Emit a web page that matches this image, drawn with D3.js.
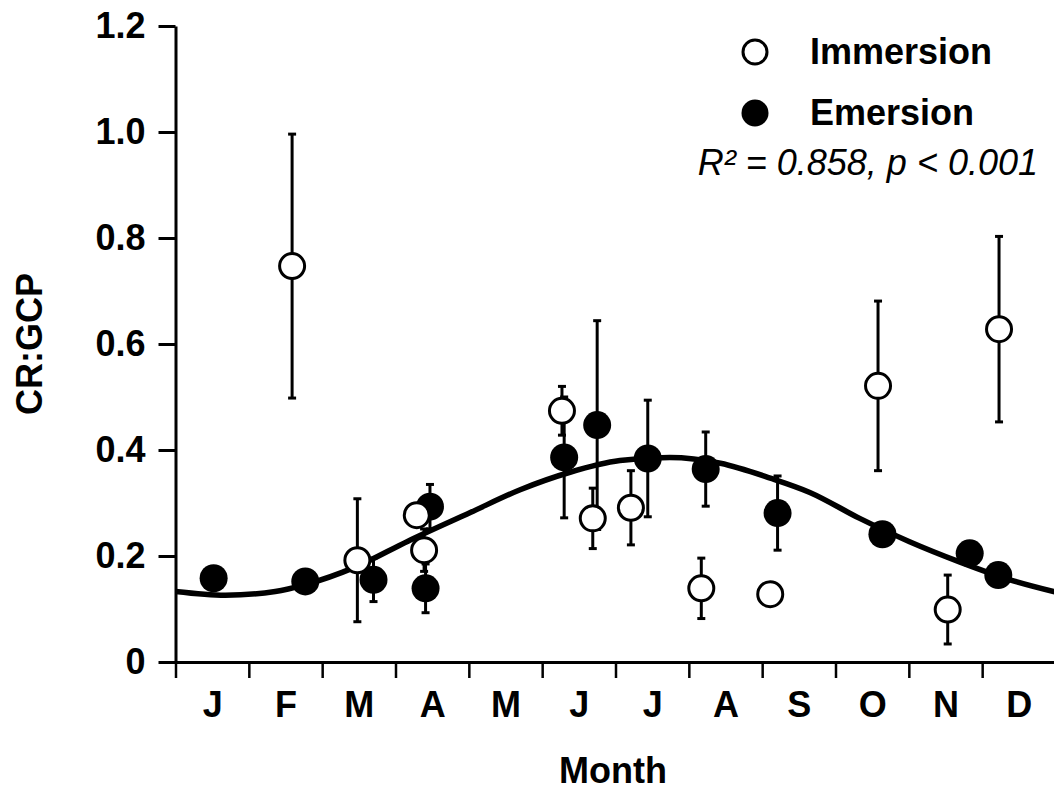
<!DOCTYPE html>
<html>
<head>
<meta charset="utf-8">
<script src="https://cdn.jsdelivr.net/npm/d3@7"></script>
<style>
  body { margin: 0; background: #fff; }
  svg { display: block; font-family: "Liberation Sans", Arial, sans-serif; }
</style>
</head>
<body>
<svg></svg>
<script>
// размеры
const width = 1054;
const height = 790;

// данные (позиция по оси X в месяцах от начала года)
const monthLabels = ["J", "F", "M", "A", "M", "J", "J", "A", "S", "O", "N", "D"];
const yTicks = [0, 0.2, 0.4, 0.6, 0.8, 1.0, 1.2];

// Immersion - пустые кружки
const immersionMonth = [1.59, 2.48, 3.29, 3.39, 5.27, 5.69, 6.21, 7.17, 8.11, 9.58, 10.53, 11.23];
const immersionValue = [0.747, 0.192, 0.277, 0.211, 0.474, 0.271, 0.291, 0.139, 0.128, 0.521, 0.099, 0.628];
const immersionErr = [0.249, 0.116, 0, 0.040, 0.046, 0.057, 0.070, 0.057, 0, 0.160, 0.065, 0.175];

// Emersion - закрашенные кружки
const emersionMonth = [0.52, 1.77, 2.70, 3.47, 3.41, 5.30, 5.75, 6.44, 7.23, 8.21, 9.64, 10.83, 11.22];
const emersionValue = [0.158, 0.152, 0.155, 0.293, 0.139, 0.386, 0.447, 0.384, 0.364, 0.281, 0.241, 0.205, 0.164];
const emersionErr = [0, 0, 0.041, 0.042, 0.046, 0.114, 0.197, 0.110, 0.070, 0.070, 0, 0, 0];

// линия аппроксимации
const fitMonth = [0, 0.68, 1.36, 1.77, 2.45, 3.17, 4.02, 4.70, 5.38, 6.06, 6.74, 7.43, 8.11, 8.65, 9.33, 10.01, 10.69, 11.38, 12];
const fitValue = [0.133, 0.126, 0.133, 0.146, 0.179, 0.228, 0.282, 0.325, 0.358, 0.380, 0.386, 0.375, 0.347, 0.320, 0.271, 0.227, 0.189, 0.155, 0.132];

let svg = d3.select("svg")
    .attr("width", width)
    .attr("height", height);

const x = d3.scaleLinear().domain([0, 12]).range([175.5, 1055.5]);
const y = d3.scaleLinear().domain([0, 1.2]).range([662, 26]);

// ось Y
let yAxis = svg.append("g")
    .attr("transform", `translate(${x(0)},0)`)
    .call(d3.axisLeft(y).tickValues(yTicks).tickSize(17).tickSizeOuter(0).tickPadding(13)
        .tickFormat(d => d === 0 ? "0" : d.toFixed(1)));
yAxis.select(".domain").attr("stroke-width", 3);
yAxis.selectAll(".tick line").attr("stroke-width", 3);
yAxis.selectAll(".tick text")
    .style("font-size", "36px").style("font-weight", "bold").attr("fill", "#000");

// ось X - деления между месяцами
let xAxis = svg.append("g")
    .attr("transform", `translate(0,${y(0)})`)
    .call(d3.axisBottom(x).tickValues(d3.range(0, 13)).tickSize(16).tickSizeOuter(0).tickFormat(""));
xAxis.select(".domain").attr("stroke-width", 3);
xAxis.selectAll(".tick line").attr("stroke-width", 2.5);

// подписи месяцев по центру
let xLabels = svg.append("g")
    .attr("transform", `translate(0,${y(0)})`)
    .call(d3.axisBottom(x).tickValues(d3.range(0, 12).map(i => i + 0.5)).tickSize(0).tickPadding(29)
        .tickFormat((d, i) => monthLabels[i]));
xLabels.select(".domain").remove();
xLabels.selectAll(".tick text")
    .style("font-size", "36px").style("font-weight", "bold").attr("fill", "#000");

// названия осей
svg.append("text")
    .attr("x", 613).attr("y", 783)
    .attr("text-anchor", "middle")
    .style("font-size", "36px").style("font-weight", "bold")
    .text("Month");
svg.append("text")
    .attr("transform", "translate(42,344) rotate(-90)")
    .attr("text-anchor", "middle")
    .style("font-size", "36px").style("font-weight", "bold")
    .text("CR:GCP");

// кривая
const line = d3.line()
    .x((d, i) => x(fitMonth[i]))
    .y(d => y(d))
    .curve(d3.curveMonotoneX);
svg.append("path")
    .attr("d", line(fitValue))
    .attr("fill", "none")
    .attr("stroke", "black")
    .attr("stroke-width", 5.5);

function drawSeries(months, values, errs, filled) {
    let g = svg.append("g");
    months.forEach((m, i) => {
        const cx = x(m);
        const cy = y(values[i]);
        if (errs[i] > 0) {
            const top = y(values[i] + errs[i]);
            const bottom = y(values[i] - errs[i]);
            g.append("line").attr("x1", cx).attr("x2", cx).attr("y1", top).attr("y2", bottom)
                .attr("stroke", "black").attr("stroke-width", 3);
            [top, bottom].forEach(yy => {
                g.append("line").attr("x1", cx - 4).attr("x2", cx + 4).attr("y1", yy).attr("y2", yy)
                    .attr("stroke", "black").attr("stroke-width", 3);
            });
        }
        if (filled) {
            g.append("circle").attr("cx", cx).attr("cy", cy).attr("r", 14).attr("fill", "black");
        } else {
            g.append("circle").attr("cx", cx).attr("cy", cy).attr("r", 12.5)
                .attr("fill", "white").attr("stroke", "black").attr("stroke-width", 3);
        }
    });
}

drawSeries(emersionMonth, emersionValue, emersionErr, true);
drawSeries(immersionMonth, immersionValue, immersionErr, false);

// легенда
let legend = svg.append("g");
legend.append("circle").attr("cx", 755).attr("cy", 52).attr("r", 12)
    .attr("fill", "white").attr("stroke", "black").attr("stroke-width", 3);
legend.append("text").attr("x", 810).attr("y", 64)
    .style("font-size", "36px").style("font-weight", "bold").text("Immersion");
legend.append("circle").attr("cx", 755).attr("cy", 113).attr("r", 13.5).attr("fill", "black");
legend.append("text").attr("x", 810).attr("y", 125)
    .style("font-size", "36px").style("font-weight", "bold").text("Emersion");
legend.append("text").attr("x", 1038).attr("y", 175)
    .attr("text-anchor", "end")
    .style("font-size", "36px").style("font-style", "italic")
    .text("R² = 0.858, p < 0.001");
</script>
</body>
</html>
